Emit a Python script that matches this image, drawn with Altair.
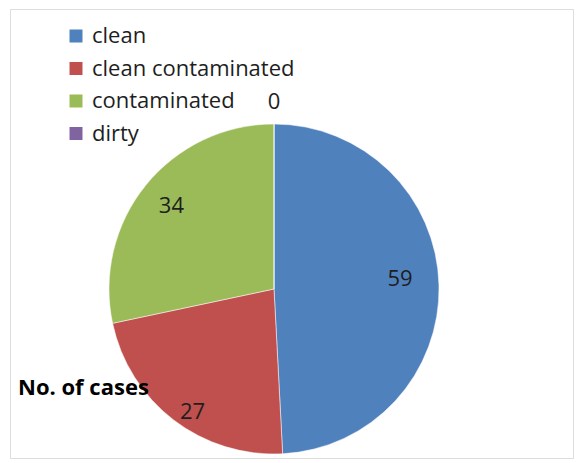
import altair as alt
import pandas as pd

categories = ["clean", "clean contaminated", "contaminated", "dirty"]
cases = [59, 27, 34, 0]
colors = ["#4F81BD", "#C0504D", "#9BBB59", "#8064A2"]

df = pd.DataFrame({"category": categories, "cases": cases, "order": list(range(len(categories)))})

FONT = "Open Sans"
TXT = "#1e1e1e"
CX, CY, R = 264, 280, 165

pie = alt.Chart(df).mark_arc(radius=R, stroke="white", strokeWidth=0.5).encode(
    theta=alt.Theta("cases:Q", stack=True),
    order=alt.Order("order:Q"),
    x=alt.value(CX),
    y=alt.value(CY),
    color=alt.Color(
        "category:N",
        scale=alt.Scale(domain=categories, range=colors),
        legend=alt.Legend(
            title=None,
            orient="none",
            legendX=55,
            legendY=16,
            symbolType="square",
            symbolSize=169,
            symbolStrokeWidth=0,
            labelFontSize=22,
            labelFont=FONT,
            labelColor=TXT,
            rowPadding=10.5,
            labelOffset=5,
            padding=0,
            labelLimit=400,
        ),
    ),
)

text_base = (
    alt.Chart(df)
    .transform_joinaggregate(total="sum(cases)")
    .transform_window(cum="sum(cases)", sort=[alt.SortField("order")], frame=[None, 0])
    .transform_calculate(mid="2*PI*(datum.cum - datum.cases/2)/datum.total")
    .encode(
        theta=alt.Theta("mid:Q", scale=None),
        x=alt.value(CX),
        y=alt.value(CY),
        text="cases:Q",
    )
)

label_59 = text_base.mark_text(radius=126, dy=-7, fontSize=22, font=FONT, color=TXT).transform_filter(
    "datum.category == 'clean'"
)
label_34 = text_base.mark_text(radius=132, fontSize=22, font=FONT, color=TXT).transform_filter(
    "datum.category == 'contaminated'"
)
label_27 = text_base.mark_text(radius=147, dx=8, dy=6, fontSize=22, font=FONT, color=TXT).transform_filter(
    "datum.category == 'clean contaminated'"
)
label_0 = text_base.mark_text(radius=187, fontSize=22, font=FONT, color=TXT).transform_filter(
    "datum.category == 'dirty'"
)

series_label = alt.Chart(pd.DataFrame({"t": ["No. of cases"]})).mark_text(
    align="left", baseline="middle", fontSize=22, fontWeight="bold", font=FONT, color="#000000"
).encode(text="t:N", x=alt.value(8), y=alt.value(379))

chart = (
    alt.layer(pie, label_59, label_34, label_27, label_0, series_label)
    .resolve_scale(theta="independent")
    .properties(
        width=563,
        height=449,
        autosize=alt.AutoSizeParams(type="none"),
        padding={"left": 10, "top": 9, "right": 3, "bottom": 4},
    )
    .configure_view(stroke="#8c8c8c", strokeWidth=1.5, cornerRadius=20)
    .configure(background="white")
)

chart.save("out.html", embed_options={"renderer": "svg", "actions": False})
